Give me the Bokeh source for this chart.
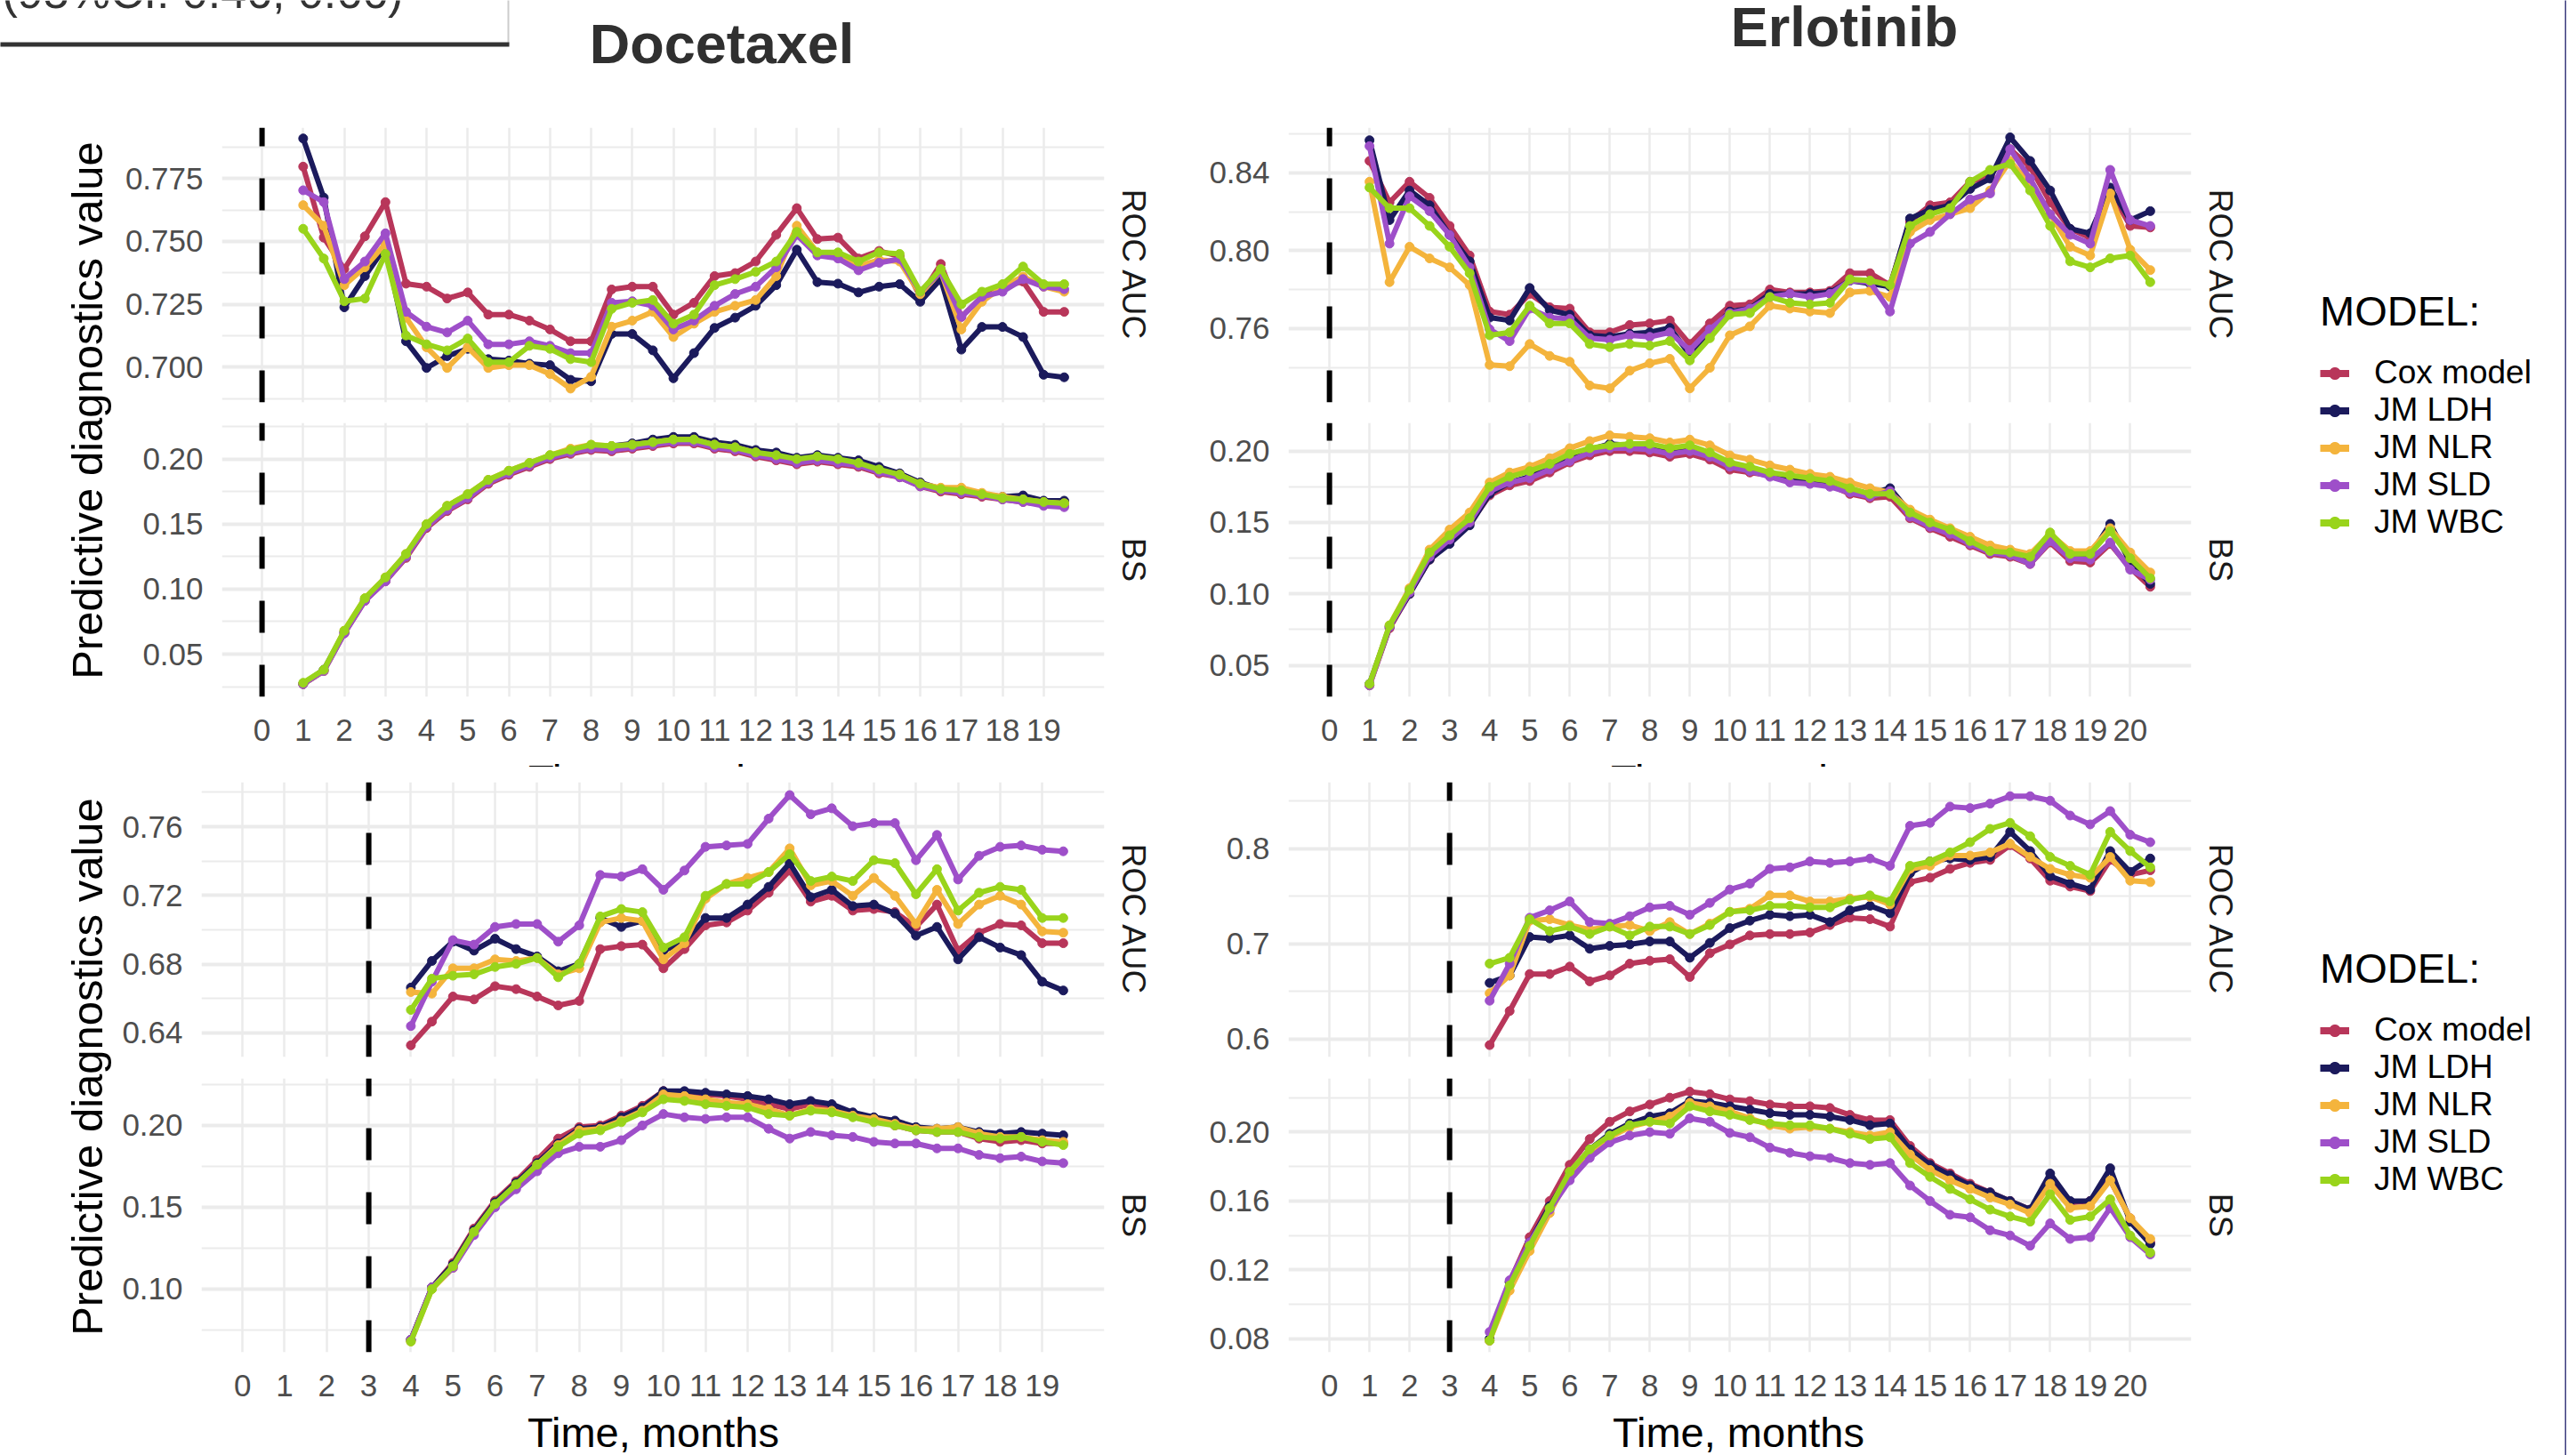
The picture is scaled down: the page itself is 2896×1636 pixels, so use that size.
from math import pi
import numpy as np
from bokeh.plotting import figure
from bokeh.layouts import row, column
from bokeh.models import (Range1d, FixedTicker, NumeralTickFormatter, Label, Legend,
                          LegendItem, BoxAnnotation, LinearAxis, Spacer)
from bokeh.embed import file_html
from bokeh.resources import INLINE

FONT = "Liberation Sans"
GRID = "#EBEBEB"
MODELS = ["Cox model", "JM LDH", "JM NLR", "JM SLD", "JM WBC"]
COLORS = ["#B8365A", "#1B1A5C", "#F4B43C", "#9E4FC9", "#99D41B"]

# ---------------- time grids (months) ----------------
T_DOC_L0 = [1.0, 1.5, 2.0, 2.5, 3.0, 3.5, 4.0, 4.5, 5.0, 5.5, 6.0, 6.5, 7.0, 7.5, 8.0, 8.5,
            9.0, 9.5, 10.0, 10.5, 11.0, 11.5, 12.0, 12.5, 13.0, 13.5, 14.0, 14.5, 15.0, 15.5,
            16.0, 16.5, 17.0, 17.5, 18.0, 18.5, 19.0, 19.5]
T_ERL_L0 = [1.0, 1.5, 2.0, 2.5, 3.0, 3.5, 4.0, 4.5, 5.0, 5.5, 6.0, 6.5, 7.0, 7.5, 8.0, 8.5,
            9.0, 9.5, 10.0, 10.5, 11.0, 11.5, 12.0, 12.5, 13.0, 13.5, 14.0, 14.5, 15.0, 15.5,
            16.0, 16.5, 17.0, 17.5, 18.0, 18.5, 19.0, 19.5, 20.0, 20.5]
T_DOC_L3 = [4.0, 4.5, 5.0, 5.5, 6.0, 6.5, 7.0, 7.5, 8.0, 8.5, 9.0, 9.5, 10.0, 10.5, 11.0, 11.5,
            12.0, 12.5, 13.0, 13.5, 14.0, 14.5, 15.0, 15.5, 16.0, 16.5, 17.0, 17.5, 18.0, 18.5,
            19.0, 19.5]
T_ERL_L3 = [4.0, 4.5, 5.0, 5.5, 6.0, 6.5, 7.0, 7.5, 8.0, 8.5, 9.0, 9.5, 10.0, 10.5, 11.0, 11.5,
            12.0, 12.5, 13.0, 13.5, 14.0, 14.5, 15.0, 15.5, 16.0, 16.5, 17.0, 17.5, 18.0, 18.5,
            19.0, 19.5, 20.0, 20.5]
LANDMARK_TOP = 0
LANDMARK_BOTTOM = 3
X_TICKS_DOC = list(range(0, 20))
X_TICKS_ERL = list(range(0, 21))

# ---------------- Docetaxel, landmark 0 : ROC AUC ----------------
DOC0_ROC_COX = [0.7797, 0.7515, 0.739, 0.752, 0.7656, 0.7332, 0.732, 0.7273, 0.7297, 0.7209,
                0.7209, 0.7185, 0.715, 0.7103, 0.7103, 0.7309, 0.732, 0.732, 0.7209, 0.7256,
                0.7362, 0.7374, 0.742, 0.7526, 0.7632, 0.7509, 0.7515, 0.7432, 0.7462, 0.744,
                0.728, 0.741, 0.720, 0.728, 0.732, 0.734, 0.722, 0.722]
DOC0_ROC_LDH = [0.7909, 0.7674, 0.7238, 0.7362, 0.7479, 0.7103, 0.6997, 0.7044, 0.7073, 0.7032,
                0.7026, 0.7014, 0.7008, 0.695, 0.6944, 0.7132, 0.7132, 0.7067, 0.6956, 0.7056,
                0.7156, 0.7197, 0.7244, 0.7326, 0.7467, 0.7338, 0.7332, 0.7297, 0.732, 0.733,
                0.726, 0.735, 0.707, 0.716, 0.716, 0.712, 0.697, 0.696]
DOC0_ROC_NLR = [0.7644, 0.7562, 0.7326, 0.7397, 0.7491, 0.7197, 0.7079, 0.6997, 0.7079, 0.6997,
                0.7008, 0.7008, 0.6973, 0.6915, 0.6962, 0.7161, 0.7185, 0.722, 0.712, 0.7173,
                0.722, 0.7244, 0.7267, 0.7362, 0.7562, 0.7456, 0.7444, 0.7403, 0.7426, 0.742,
                0.729, 0.738, 0.715, 0.726, 0.732, 0.736, 0.732, 0.730]
DOC0_ROC_SLD = [0.7703, 0.7656, 0.735, 0.742, 0.7532, 0.722, 0.7161, 0.7138, 0.7185, 0.7091,
                0.7091, 0.7103, 0.7085, 0.7056, 0.7056, 0.7256, 0.7262, 0.7244, 0.715, 0.7185,
                0.7244, 0.7291, 0.732, 0.7397, 0.7526, 0.7444, 0.7432, 0.7385, 0.7415, 0.743,
                0.730, 0.738, 0.720, 0.728, 0.730, 0.735, 0.732, 0.731]
DOC0_ROC_WBC = [0.755, 0.7432, 0.7262, 0.7273, 0.745, 0.7126, 0.7091, 0.7067, 0.7114, 0.702,
                0.702, 0.7085, 0.7073, 0.7032, 0.702, 0.7232, 0.7256, 0.7267, 0.7173, 0.7209,
                0.7326, 0.735, 0.7379, 0.742, 0.7538, 0.7456, 0.7456, 0.742, 0.7456, 0.745,
                0.730, 0.739, 0.725, 0.730, 0.733, 0.740, 0.733, 0.733]

# ---------------- Docetaxel, landmark 0 : BS ----------------
DOC0_BS_COX = [0.027, 0.037, 0.066, 0.091, 0.106, 0.124, 0.147, 0.160, 0.169, 0.181, 0.188,
               0.194, 0.200, 0.204, 0.207, 0.206, 0.208, 0.210, 0.212, 0.212, 0.208, 0.206,
               0.202, 0.199, 0.196, 0.198, 0.196, 0.194, 0.189, 0.186, 0.179, 0.175, 0.173,
               0.171, 0.169, 0.167, 0.165, 0.164]
DOC0_BS_LDH = [0.027, 0.038, 0.067, 0.092, 0.108, 0.126, 0.149, 0.162, 0.172, 0.183, 0.190,
               0.196, 0.202, 0.206, 0.210, 0.210, 0.212, 0.215, 0.217, 0.217, 0.213, 0.211,
               0.207, 0.205, 0.201, 0.203, 0.201, 0.199, 0.194, 0.189, 0.182, 0.177, 0.176,
               0.173, 0.171, 0.172, 0.168, 0.168]
DOC0_BS_NLR = [0.027, 0.037, 0.068, 0.093, 0.109, 0.127, 0.150, 0.164, 0.173, 0.184, 0.191,
               0.197, 0.203, 0.208, 0.211, 0.210, 0.211, 0.213, 0.215, 0.215, 0.211, 0.209,
               0.205, 0.202, 0.199, 0.201, 0.199, 0.196, 0.191, 0.188, 0.181, 0.178, 0.178,
               0.174, 0.171, 0.169, 0.167, 0.166]
DOC0_BS_SLD = [0.027, 0.037, 0.066, 0.091, 0.106, 0.125, 0.148, 0.161, 0.170, 0.182, 0.189,
               0.195, 0.201, 0.205, 0.208, 0.207, 0.209, 0.211, 0.213, 0.213, 0.209, 0.207,
               0.203, 0.200, 0.197, 0.199, 0.197, 0.195, 0.190, 0.186, 0.179, 0.176, 0.174,
               0.172, 0.169, 0.167, 0.164, 0.163]
DOC0_BS_WBC = [0.028, 0.038, 0.068, 0.093, 0.109, 0.127, 0.150, 0.164, 0.173, 0.184, 0.191,
               0.197, 0.203, 0.207, 0.211, 0.210, 0.211, 0.213, 0.215, 0.215, 0.211, 0.209,
               0.205, 0.203, 0.200, 0.202, 0.200, 0.197, 0.192, 0.188, 0.181, 0.177, 0.176,
               0.173, 0.170, 0.169, 0.167, 0.166]

# ---------------- Erlotinib, landmark 0 : ROC AUC ----------------
ERL0_ROC_COX = [0.8461, 0.8248, 0.8354, 0.8271, 0.8127, 0.7975, 0.7687, 0.7671, 0.7778, 0.7709,
                0.7702, 0.758, 0.758, 0.7618, 0.7626, 0.7641, 0.752, 0.7626, 0.7717, 0.7724,
                0.78, 0.7785, 0.7785, 0.7793, 0.7884, 0.7884, 0.7823, 0.815, 0.8233, 0.8248,
                0.8354, 0.8385, 0.8521, 0.843, 0.8248, 0.8112, 0.8066, 0.8309, 0.8127, 0.8119]
ERL0_ROC_LDH = [0.8567, 0.8157, 0.8309, 0.8233, 0.8081, 0.7945, 0.7656, 0.7641, 0.7808, 0.7694,
                0.7671, 0.7565, 0.7557, 0.7573, 0.758, 0.7603, 0.7466, 0.758, 0.7687, 0.7702,
                0.7778, 0.7778, 0.7778, 0.7785, 0.7846, 0.7831, 0.7815, 0.8165, 0.821, 0.8233,
                0.8317, 0.837, 0.8582, 0.8461, 0.8309, 0.8112, 0.8089, 0.8324, 0.8157, 0.8203]
ERL0_ROC_NLR = [0.8354, 0.7838, 0.802, 0.796, 0.7914, 0.7823, 0.7413, 0.7406, 0.752, 0.7459,
                0.7429, 0.7307, 0.7292, 0.7383, 0.7421, 0.7444, 0.7292, 0.7398, 0.7565, 0.7611,
                0.7717, 0.7702, 0.7687, 0.7679, 0.7785, 0.7793, 0.7762, 0.8096, 0.8157, 0.8187,
                0.8218, 0.8309, 0.8461, 0.8339, 0.8187, 0.802, 0.7975, 0.8294, 0.8005, 0.79]
ERL0_ROC_SLD = [0.8537, 0.8036, 0.8279, 0.8203, 0.8081, 0.7914, 0.7596, 0.7535, 0.7702, 0.7656,
                0.7649, 0.755, 0.7542, 0.7565, 0.7557, 0.758, 0.7489, 0.7596, 0.7679, 0.7702,
                0.7762, 0.7778, 0.7762, 0.7778, 0.7846, 0.7838, 0.7687, 0.8036, 0.8096, 0.8187,
                0.8263, 0.8294, 0.8521, 0.837, 0.8187, 0.8081, 0.8036, 0.8415, 0.8157, 0.8127]
ERL0_ROC_WBC = [0.8324, 0.8218, 0.8218, 0.8127, 0.802, 0.7884, 0.7565, 0.758, 0.7717, 0.7626,
                0.7626, 0.752, 0.7504, 0.752, 0.7512, 0.7535, 0.7436, 0.755, 0.7671, 0.7679,
                0.7762, 0.7732, 0.7724, 0.7732, 0.7853, 0.7846, 0.7823, 0.8127, 0.8187, 0.8218,
                0.8354, 0.8415, 0.8446, 0.8309, 0.8127, 0.7945, 0.7914, 0.796, 0.7975, 0.7838]

# ---------------- Erlotinib, landmark 0 : BS ----------------
ERL0_BS_COX = [0.036, 0.076, 0.100, 0.124, 0.136, 0.149, 0.169, 0.176, 0.179, 0.185,
               0.192, 0.197, 0.200, 0.200, 0.199, 0.196, 0.198, 0.194, 0.187, 0.185,
               0.183, 0.181, 0.178, 0.176, 0.170, 0.167, 0.168, 0.153, 0.146, 0.140,
               0.134, 0.128, 0.126, 0.121, 0.136, 0.123, 0.122, 0.135, 0.118, 0.105]
ERL0_BS_LDH = [0.037, 0.077, 0.100, 0.124, 0.135, 0.148, 0.170, 0.178, 0.182, 0.189,
               0.196, 0.201, 0.205, 0.204, 0.203, 0.200, 0.202, 0.197, 0.190, 0.188,
               0.184, 0.182, 0.180, 0.178, 0.173, 0.170, 0.174, 0.157, 0.149, 0.143,
               0.136, 0.131, 0.129, 0.125, 0.141, 0.127, 0.127, 0.149, 0.122, 0.107]
ERL0_BS_NLR = [0.036, 0.078, 0.104, 0.131, 0.145, 0.157, 0.178, 0.185, 0.189, 0.195,
               0.202, 0.207, 0.211, 0.210, 0.209, 0.206, 0.208, 0.204, 0.197, 0.194,
               0.190, 0.187, 0.184, 0.182, 0.178, 0.174, 0.171, 0.159, 0.152, 0.146,
               0.140, 0.134, 0.131, 0.128, 0.142, 0.130, 0.130, 0.146, 0.129, 0.115]
ERL0_BS_SLD = [0.036, 0.077, 0.101, 0.126, 0.138, 0.150, 0.172, 0.178, 0.181, 0.187,
               0.193, 0.199, 0.202, 0.202, 0.201, 0.198, 0.200, 0.196, 0.189, 0.186,
               0.182, 0.178, 0.177, 0.175, 0.171, 0.168, 0.172, 0.154, 0.147, 0.142,
               0.135, 0.129, 0.127, 0.121, 0.137, 0.125, 0.124, 0.136, 0.117, 0.110]
ERL0_BS_WBC = [0.037, 0.078, 0.103, 0.129, 0.141, 0.153, 0.175, 0.182, 0.186, 0.191,
               0.198, 0.202, 0.204, 0.205, 0.205, 0.202, 0.204, 0.199, 0.192, 0.189,
               0.185, 0.183, 0.181, 0.179, 0.174, 0.170, 0.170, 0.157, 0.150, 0.145,
               0.137, 0.130, 0.129, 0.126, 0.143, 0.128, 0.128, 0.144, 0.125, 0.111]

# ---------------- Docetaxel, landmark 3 : ROC AUC ----------------
DOC3_ROC_COX = [0.6328, 0.6466, 0.6612, 0.6595, 0.6672, 0.6655, 0.6612, 0.656, 0.6586, 0.6888,
                0.6905, 0.6914, 0.6776, 0.6888, 0.7026, 0.7043, 0.7112, 0.7216, 0.7345, 0.7164,
                0.7198, 0.7112, 0.7121, 0.7103, 0.7017, 0.7147, 0.6879, 0.6983, 0.7034, 0.7026,
                0.6922, 0.6922]
DOC3_ROC_LDH = [0.6664, 0.6819, 0.6931, 0.6879, 0.6948, 0.6888, 0.6845, 0.6759, 0.6802, 0.7069,
                0.7017, 0.7052, 0.6879, 0.6931, 0.7069, 0.7069, 0.7147, 0.725, 0.7388, 0.719,
                0.7233, 0.7138, 0.7147, 0.7095, 0.6966, 0.7017, 0.6828, 0.6957, 0.6897, 0.6853,
                0.6698, 0.6647]
DOC3_ROC_NLR = [0.6638, 0.6629, 0.6776, 0.6776, 0.6828, 0.6819, 0.6836, 0.6741, 0.6776, 0.7043,
                0.7069, 0.7052, 0.6828, 0.6922, 0.7181, 0.7267, 0.7302, 0.7336, 0.7474, 0.7259,
                0.7284, 0.7198, 0.7302, 0.7198, 0.7034, 0.7233, 0.7034, 0.7147, 0.7198, 0.7147,
                0.6991, 0.6983]
DOC3_ROC_SLD = [0.644, 0.6698, 0.694, 0.6914, 0.7017, 0.7034, 0.7034, 0.6931, 0.7026, 0.7319,
                0.731, 0.7353, 0.7233, 0.7345, 0.7483, 0.7491, 0.75, 0.7647, 0.7784, 0.7672,
                0.7707, 0.7603, 0.7621, 0.7621, 0.7405, 0.7552, 0.7293, 0.7431, 0.7483, 0.7491,
                0.7466, 0.7457]
DOC3_ROC_WBC = [0.6534, 0.6716, 0.6733, 0.6741, 0.6784, 0.6802, 0.6836, 0.6724, 0.6802, 0.7078,
                0.7121, 0.7103, 0.6897, 0.6957, 0.7198, 0.7267, 0.7267, 0.7336, 0.744, 0.7284,
                0.731, 0.7284, 0.7405, 0.7388, 0.7207, 0.7353, 0.7112, 0.7216, 0.725, 0.7233,
                0.7069, 0.7069]

# ---------------- Docetaxel, landmark 3 : BS ----------------
DOC3_BS_COX = [0.069, 0.101, 0.116, 0.137, 0.154, 0.166, 0.179, 0.192, 0.199, 0.200,
               0.206, 0.212, 0.221, 0.220, 0.219, 0.218, 0.216, 0.213, 0.210, 0.213,
               0.211, 0.207, 0.204, 0.200, 0.197, 0.196, 0.196, 0.192, 0.190, 0.191,
               0.189, 0.189]
DOC3_BS_LDH = [0.069, 0.101, 0.115, 0.136, 0.153, 0.165, 0.177, 0.189, 0.198, 0.199,
               0.205, 0.211, 0.221, 0.221, 0.220, 0.219, 0.218, 0.216, 0.213, 0.215,
               0.213, 0.208, 0.205, 0.203, 0.199, 0.198, 0.199, 0.196, 0.195, 0.196,
               0.195, 0.194]
DOC3_BS_NLR = [0.068, 0.100, 0.113, 0.134, 0.151, 0.163, 0.176, 0.188, 0.197, 0.198,
               0.203, 0.209, 0.219, 0.218, 0.216, 0.214, 0.213, 0.210, 0.206, 0.210,
               0.209, 0.206, 0.204, 0.201, 0.198, 0.198, 0.199, 0.195, 0.193, 0.193,
               0.191, 0.190]
DOC3_BS_SLD = [0.069, 0.101, 0.113, 0.133, 0.150, 0.161, 0.172, 0.183, 0.187, 0.187,
               0.191, 0.200, 0.207, 0.205, 0.204, 0.205, 0.205, 0.198, 0.192, 0.196,
               0.194, 0.193, 0.190, 0.189, 0.189, 0.186, 0.186, 0.182, 0.180, 0.181,
               0.178, 0.177]
DOC3_BS_WBC = [0.068, 0.100, 0.114, 0.135, 0.152, 0.164, 0.176, 0.187, 0.195, 0.197,
               0.202, 0.208, 0.216, 0.215, 0.213, 0.212, 0.211, 0.207, 0.206, 0.209,
               0.208, 0.205, 0.202, 0.200, 0.197, 0.196, 0.196, 0.193, 0.192, 0.193,
               0.190, 0.188]

# ---------------- Erlotinib, landmark 3 : ROC AUC ----------------
ERL3_ROC_COX = [0.5938, 0.6296, 0.6684, 0.6684, 0.6762, 0.6607, 0.6669, 0.6793, 0.6824, 0.684,
                0.6653, 0.6902, 0.6995, 0.7089, 0.7104, 0.7104, 0.712, 0.7198, 0.7275, 0.726,
                0.7182, 0.7649, 0.7695, 0.7788, 0.7851, 0.7882, 0.8037, 0.7897, 0.7664, 0.7602,
                0.7555, 0.7882, 0.7726, 0.7773]
ERL3_ROC_LDH = [0.6591, 0.6669, 0.7073, 0.7058, 0.7089, 0.6949, 0.698, 0.6995, 0.7026, 0.7026,
                0.6855, 0.7011, 0.7166, 0.7244, 0.7306, 0.7291, 0.7306, 0.7229, 0.7353, 0.74,
                0.7322, 0.7742, 0.7866, 0.7897, 0.7882, 0.7913, 0.8177, 0.7975, 0.7711, 0.7633,
                0.7571, 0.7975, 0.7757, 0.7897]
ERL3_ROC_NLR = [0.6482, 0.6669, 0.7244, 0.726, 0.7198, 0.7151, 0.7182, 0.7198, 0.7135, 0.7229,
                0.7104, 0.7213, 0.7337, 0.7369, 0.751, 0.751, 0.7446, 0.7446, 0.7477, 0.7493,
                0.7415, 0.7788, 0.782, 0.7928, 0.7928, 0.796, 0.8053, 0.7913, 0.7788, 0.7726,
                0.7695, 0.7913, 0.7664, 0.7649]
ERL3_ROC_SLD = [0.6404, 0.6793, 0.7275, 0.7353, 0.7446, 0.7229, 0.7213, 0.7291, 0.7384, 0.74,
                0.7306, 0.7431, 0.7571, 0.7633, 0.7788, 0.7804, 0.7866, 0.7851, 0.7866, 0.7897,
                0.782, 0.824, 0.8271, 0.8442, 0.8426, 0.8473, 0.8551, 0.8551, 0.8504, 0.8348,
                0.8255, 0.8395, 0.8146, 0.8068]
ERL3_ROC_WBC = [0.6793, 0.6855, 0.726, 0.7135, 0.7182, 0.7104, 0.7182, 0.7089, 0.7182, 0.7182,
                0.7104, 0.7198, 0.7337, 0.7353, 0.74, 0.74, 0.7384, 0.7384, 0.7462, 0.7509,
                0.7446, 0.782, 0.7866, 0.796, 0.8068, 0.8208, 0.8271, 0.8131, 0.7913, 0.782,
                0.7726, 0.8177, 0.7975, 0.7804]

# ---------------- Erlotinib, landmark 3 : BS ----------------
ERL3_BS_COX = [0.079, 0.113, 0.139, 0.160, 0.181, 0.196, 0.206, 0.212, 0.216, 0.220,
               0.2235, 0.222, 0.219, 0.218, 0.216, 0.215, 0.215, 0.214, 0.210, 0.207,
               0.207, 0.192, 0.182, 0.176, 0.170, 0.165, 0.160, 0.155, 0.172, 0.159,
               0.160, 0.172, 0.150, 0.136]
ERL3_BS_LDH = [0.080, 0.113, 0.136, 0.157, 0.176, 0.190, 0.199, 0.205, 0.209, 0.211,
               0.218, 0.217, 0.215, 0.213, 0.211, 0.210, 0.210, 0.209, 0.207, 0.204,
               0.205, 0.190, 0.181, 0.175, 0.169, 0.165, 0.160, 0.155, 0.176, 0.160,
               0.160, 0.179, 0.148, 0.135]
ERL3_BS_NLR = [0.079, 0.108, 0.131, 0.153, 0.175, 0.188, 0.197, 0.203, 0.206, 0.209,
               0.217, 0.215, 0.212, 0.208, 0.204, 0.202, 0.203, 0.202, 0.200, 0.198,
               0.200, 0.187, 0.178, 0.172, 0.167, 0.162, 0.158, 0.153, 0.170, 0.156,
               0.157, 0.172, 0.150, 0.138]
ERL3_BS_SLD = [0.084, 0.114, 0.136, 0.155, 0.172, 0.185, 0.194, 0.198, 0.200, 0.199,
               0.208, 0.206, 0.1995, 0.197, 0.191, 0.188, 0.186, 0.185, 0.182, 0.181,
               0.182, 0.169, 0.160, 0.152, 0.1505, 0.143, 0.140, 0.134, 0.147, 0.138,
               0.139, 0.156, 0.139, 0.129]
ERL3_BS_WBC = [0.079, 0.111, 0.134, 0.156, 0.177, 0.190, 0.198, 0.204, 0.206, 0.205,
               0.215, 0.212, 0.210, 0.207, 0.205, 0.204, 0.204, 0.202, 0.199, 0.196,
               0.197, 0.182, 0.174, 0.167, 0.161, 0.155, 0.151, 0.148, 0.164, 0.149,
               0.151, 0.161, 0.140, 0.130]

XR_DOC = (-0.975, 20.475)
XR_ERL = (-1.025, 21.525)


def make_series(cox, ldh, nlr, sld, wbc):
    return dict(zip(MODELS, [cox, ldh, nlr, sld, wbc]))


def blank_fig(w, h):
    p = figure(width=w, height=h, output_backend="svg", toolbar_location=None,
               x_axis_location=None, y_axis_location=None, min_border=0,
               x_range=Range1d(0, w), y_range=Range1d(0, h))
    p.grid.visible = False
    p.outline_line_color = None
    p.background_fill_color = "white"
    p.border_fill_color = "white"
    return p


def bare_axis(ax):
    ax.axis_line_color = None
    ax.major_tick_line_color = None
    ax.minor_tick_line_color = None
    ax.major_tick_out = 0
    ax.major_tick_in = 0
    ax.minor_tick_out = 0
    ax.minor_tick_in = 0


def facet(w, h, bl, br, bt, bb, xr, yr, xticks, yticks, yminor, yfmt, t, series,
          landmark, strip, show_x):
    p = figure(width=w, height=h, x_range=Range1d(*xr), y_range=Range1d(*yr),
               output_backend="svg", toolbar_location=None,
               min_border_left=bl, min_border_right=br, min_border_top=bt,
               min_border_bottom=bb)
    p.outline_line_color = None
    p.background_fill_color = "white"
    p.border_fill_color = "white"
    xt = FixedTicker(ticks=xticks)
    yt = FixedTicker(ticks=yticks, minor_ticks=yminor)
    p.xaxis.ticker = xt
    p.yaxis.ticker = yt
    p.xgrid.ticker = xt
    p.ygrid.ticker = yt
    p.yaxis.formatter = NumeralTickFormatter(format=yfmt)
    for ax in p.axis:
        bare_axis(ax)
        ax.major_label_text_font = FONT
        ax.major_label_text_font_size = "35px"
        ax.major_label_text_color = "#4D4D4D"
    p.yaxis.major_label_standoff = 21
    p.xaxis.major_label_standoff = 25
    p.xaxis.visible = show_x
    p.xgrid.grid_line_color = GRID
    p.xgrid.grid_line_width = 2.5
    p.ygrid.grid_line_color = GRID
    p.ygrid.grid_line_width = 4
    p.ygrid.minor_grid_line_color = GRID
    p.ygrid.minor_grid_line_width = 2

    # facet strip label on the right (ggplot strip.text.y)
    sax = LinearAxis(ticker=FixedTicker(ticks=[]), axis_label=strip)
    bare_axis(sax)
    sax.major_label_standoff = 0
    sax.axis_label_standoff = 12
    sax.axis_label_text_font = FONT
    sax.axis_label_text_font_size = "37px"
    sax.axis_label_text_font_style = "normal"
    sax.axis_label_text_color = "#1A1A1A"
    p.add_layout(sax, "right")

    p.segment(x0=[landmark], y0=[yr[0]], x1=[landmark], y1=[yr[1]],
              line_color="black", line_width=6, line_dash="36 36")
    for m, c in zip(MODELS, COLORS):
        p.line(t, series[m], line_color=c, line_width=6, line_join="round")
        p.scatter(t, series[m], size=10, fill_color=c, line_color=c)
    return p


def xtitle_strip(w, h, centers, cy):
    # full-width strip holding the x-axis titles of one row of panels
    p = blank_fig(w, h)
    for cx in centers:
        p.add_layout(Label(x=cx, y=cy, x_units="screen", y_units="screen",
                           text="Time, months", text_align="center", text_baseline="middle",
                           text_font=FONT, text_font_size="47px", text_color="black"))
    return p


def ylab_axis_fig(w, h, left, border):
    p = figure(width=w, height=h, output_backend="svg", toolbar_location=None,
               x_axis_location=None, y_axis_location="left",
               min_border_left=left, min_border_right=0, min_border_top=border,
               min_border_bottom=border, x_range=Range1d(0, 1), y_range=Range1d(0, 1))
    p.grid.visible = False
    p.outline_line_color = None
    p.yaxis.ticker = FixedTicker(ticks=[])
    bare_axis(p.yaxis[0])
    p.yaxis.major_label_standoff = 0
    p.yaxis.axis_label_standoff = 0
    p.yaxis.axis_label = "Predictive diagnostics value"
    p.yaxis.axis_label_text_font = FONT
    p.yaxis.axis_label_text_font_size = "49px"
    p.yaxis.axis_label_text_font_style = "normal"
    p.yaxis.axis_label_text_color = "black"
    return p


def legend_fig(w, h, left, top):
    p = blank_fig(w, h)
    p.min_border_left = left
    p.min_border_top = top
    items = []
    for m, c in zip(MODELS, COLORS):
        lr = p.line(x=np.array([np.nan]), y=np.array([np.nan]), line_color=c, line_width=8)
        sr = p.scatter(x=np.array([np.nan]), y=np.array([np.nan]), size=12,
                       fill_color=c, line_color=c)
        items.append(LegendItem(label=m, renderers=[lr, sr]))
    lg = Legend(items=items, location="top_left", title="MODEL:",
                title_text_font=FONT, title_text_font_size="47px",
                title_text_font_style="normal", title_text_color="black",
                title_standoff=21, label_text_font=FONT, label_text_font_size="37px",
                label_text_color="black", glyph_width=33, glyph_height=41,
                label_height=41, label_standoff=28, spacing=0, padding=0, margin=0,
                border_line_color=None, background_fill_alpha=0)
    p.add_layout(lg)
    return p


# ---------------- header (titles + clipped annotation box) ----------------
HW, HH = 2883, 110
header = blank_fig(HW, HH)
header.add_layout(BoxAnnotation(left=-20, right=571, bottom=60, top=300,
                                fill_alpha=0, line_color="#555555", line_width=2))
header.add_layout(BoxAnnotation(left=-20, right=572, bottom=58, top=63,
                                fill_color="#333333", fill_alpha=1, line_color=None))
header.add_layout(Label(x=2, y=120, x_units="screen", y_units="screen",
                        text="(95%CI: 0.46, 0.66)", text_font=FONT, text_font_size="52px",
                        text_color="#333333", text_baseline="middle"))
header.add_layout(Label(x=811, y=62, x_units="screen", y_units="screen", text="Docetaxel",
                        text_align="center", text_baseline="middle", text_font=FONT,
                        text_font_size="63px", text_font_style="bold", text_color="#303030"))
header.add_layout(Label(x=2073, y=81, x_units="screen", y_units="screen", text="Erlotinib",
                        text_align="center", text_baseline="middle", text_font=FONT,
                        text_font_size="63px", text_font_style="bold", text_color="#303030"))

# ---------------- top row (landmark 0) ----------------
tl_roc = facet(1210, 353, 119, 99, 33, 11, XR_DOC, (0.686, 0.7952), X_TICKS_DOC,
               [0.700, 0.725, 0.750, 0.775], [0.6875, 0.7125, 0.7375, 0.7625, 0.7875], "0.000",
               T_DOC_L0, make_series(DOC0_ROC_COX, DOC0_ROC_LDH, DOC0_ROC_NLR, DOC0_ROC_SLD,
                                     DOC0_ROC_WBC), LANDMARK_TOP, "ROC AUC", False)
tl_bs = facet(1210, 391, 119, 99, 12, 71, XR_DOC, (0.0172, 0.2278), X_TICKS_DOC,
              [0.05, 0.10, 0.15, 0.20], [0.025, 0.075, 0.125, 0.175, 0.225], "0.00",
              T_DOC_L0, make_series(DOC0_BS_COX, DOC0_BS_LDH, DOC0_BS_NLR, DOC0_BS_SLD,
                                    DOC0_BS_WBC), LANDMARK_TOP, "BS", True)
tr_roc = facet(1220, 353, 108, 97, 33, 11, XR_ERL, (0.722, 0.8632), X_TICKS_ERL,
               [0.76, 0.80, 0.84], [0.74, 0.78, 0.82, 0.86], "0.00",
               T_ERL_L0, make_series(ERL0_ROC_COX, ERL0_ROC_LDH, ERL0_ROC_NLR, ERL0_ROC_SLD,
                                     ERL0_ROC_WBC), LANDMARK_TOP, "ROC AUC", False)
tr_bs = facet(1220, 391, 108, 97, 12, 71, XR_ERL, (0.028, 0.2197), X_TICKS_ERL,
              [0.05, 0.10, 0.15, 0.20], [0.075, 0.125, 0.175], "0.00",
              T_ERL_L0, make_series(ERL0_BS_COX, ERL0_BS_LDH, ERL0_BS_NLR, ERL0_BS_SLD,
                                    ERL0_BS_WBC), LANDMARK_TOP, "BS", True)

# ---------------- bottom row (landmark 3) ----------------
bl_roc = facet(1210, 338, 96, 99, 17, 12, XR_DOC, (0.626, 0.7859), X_TICKS_DOC,
               [0.64, 0.68, 0.72, 0.76], [0.66, 0.70, 0.74, 0.78], "0.00",
               T_DOC_L3, make_series(DOC3_ROC_COX, DOC3_ROC_LDH, DOC3_ROC_NLR, DOC3_ROC_SLD,
                                     DOC3_ROC_WBC), LANDMARK_BOTTOM, "ROC AUC", False)
bl_bs = facet(1210, 386, 96, 99, 12, 66, XR_DOC, (0.0614, 0.2288), X_TICKS_DOC,
              [0.10, 0.15, 0.20], [0.075, 0.125, 0.175, 0.225], "0.00",
              T_DOC_L3, make_series(DOC3_BS_COX, DOC3_BS_LDH, DOC3_BS_NLR, DOC3_BS_SLD,
                                    DOC3_BS_WBC), LANDMARK_BOTTOM, "BS", True)
br_roc = facet(1220, 338, 108, 97, 17, 12, XR_ERL, (0.5813, 0.8698), X_TICKS_ERL,
               [0.6, 0.7, 0.8], [0.65, 0.75, 0.85], "0.0",
               T_ERL_L3, make_series(ERL3_ROC_COX, ERL3_ROC_LDH, ERL3_ROC_NLR, ERL3_ROC_SLD,
                                     ERL3_ROC_WBC), LANDMARK_BOTTOM, "ROC AUC", False)
br_bs = facet(1220, 386, 108, 97, 12, 66, XR_ERL, (0.0722, 0.2312), X_TICKS_ERL,
              [0.08, 0.12, 0.16, 0.20], [0.10, 0.14, 0.18, 0.22], "0.00",
              T_ERL_L3, make_series(ERL3_BS_COX, ERL3_BS_LDH, ERL3_BS_NLR, ERL3_BS_SLD,
                                    ERL3_BS_WBC), LANDMARK_BOTTOM, "BS", True)

ylab_a = column(ylab_axis_fig(130, 702, 124, 100), Spacer(width=130, height=42))
ylab_b = column(ylab_axis_fig(130, 674, 124, 100), Spacer(width=130, height=50))

row_a = column(
    row(ylab_a, column(tl_roc, tl_bs), column(tr_roc, tr_bs), legend_fig(323, 744, 48, 212)),
    xtitle_strip(2883, 8, [735, 1952], -10))
row_b = column(
    row(ylab_b, column(bl_roc, bl_bs), column(br_roc, br_bs), legend_fig(323, 724, 48, 199)),
    xtitle_strip(2883, 50, [734, 1954], 26))

edge = blank_fig(2, 1636)
edge.background_fill_color = "#3C3C7E"
edge.border_fill_color = "#3C3C7E"

page = row(column(header, row_a, row_b), edge)

open("out.html", "w").write(file_html(page, INLINE))
